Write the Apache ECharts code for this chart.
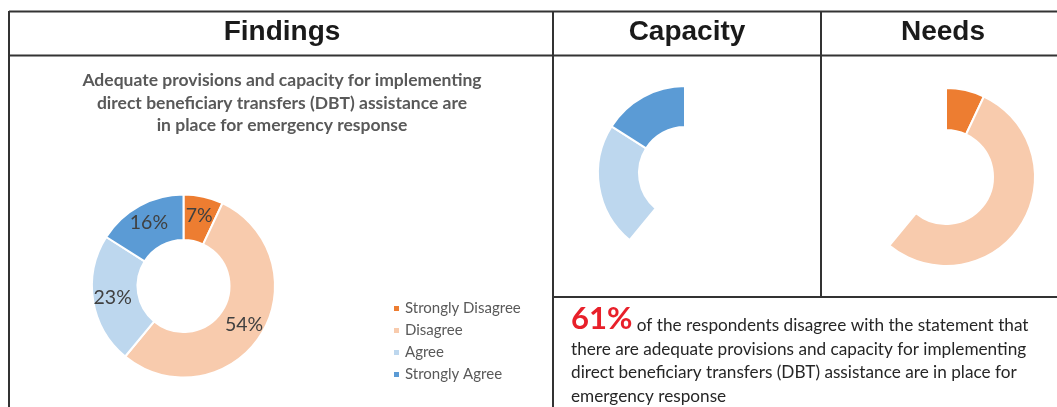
<!DOCTYPE html>
<html>
<head>
<meta charset="utf-8">
<script src="https://cdn.jsdelivr.net/npm/echarts@6/dist/echarts.min.js"></script>
<style>
  html, body { margin: 0; padding: 0; background: #fff; }
  #chart { width: 1057px; height: 407px; }
</style>
</head>
<body>
<div id="chart"></div>
<script>
// 数据
var categories = ['Strongly Disagree', 'Disagree', 'Agree', 'Strongly Agree'];
var shares = [7, 54, 23, 16];
var colors = ['#ED7D31', '#F8CBAD', '#BDD7EE', '#5B9BD5'];
var capacityShown = [false, false, true, true]; // Capacity 只画同意部分
var needsShown = [true, true, false, false];    // Needs 只画不同意部分
var headline = '61%';

var chartDom = document.getElementById('chart');
var myChart = echarts.init(chartDom);

var font = 'Lato, "Open Sans", sans-serif';
var lineColor = '#333';

function buildData(shown) {
  return categories.map(function (name, i) {
    var visible = !shown || shown[i];
    return {
      name: name,
      value: shares[i],
      itemStyle: {
        color: visible ? colors[i] : 'rgba(0,0,0,0)',
        borderColor: visible ? '#fff' : 'rgba(0,0,0,0)'
      }
    };
  });
}

function donut(center, radius, shown, withLabel) {
  return {
    type: 'pie',
    center: center,
    radius: radius,
    startAngle: 90,
    clockwise: true,
    silent: true,
    avoidLabelOverlap: false,
    itemStyle: { borderWidth: 2 },
    label: withLabel ? {
      show: true,
      position: 'inside',
      formatter: '{c}%',
      color: '#404040',
      fontFamily: font,
      fontSize: 19.5
    } : { show: false },
    labelLine: { show: false },
    emphasis: { disabled: true },
    data: buildData(shown)
  };
}

function hline(x1, x2, y) {
  return { type: 'line', silent: true, shape: { x1: x1, y1: y, x2: x2, y2: y },
    style: { stroke: lineColor, lineWidth: 2 } };
}
function vline(x, y1, y2) {
  return { type: 'line', silent: true, shape: { x1: x, y1: y1, x2: x, y2: y2 },
    style: { stroke: lineColor, lineWidth: 2 } };
}
function header(text, cx) {
  return { type: 'text', x: cx, y: 32, silent: true,
    style: { text: text, fill: '#1a1a1a', font: 'bold 28px "Liberation Sans", Arial, sans-serif',
      align: 'center', verticalAlign: 'middle' } };
}

var option = {
  animation: false,
  legend: {
    orient: 'vertical',
    left: 387,
    top: 296,
    icon: 'rect',
    itemWidth: 7,
    itemHeight: 7,
    itemGap: 7,
    data: categories,
    selectedMode: false,
    textStyle: { color: '#595959', fontFamily: font, fontSize: 15 }
  },
  graphic: [
    // 表格线
    hline(9, 1057, 11.5),
    hline(9, 1057, 55.5),
    hline(553, 1057, 297),
    vline(9, 11, 407),
    vline(553, 11, 407),
    vline(821, 11, 297),
    header('Findings', 282),
    header('Capacity', 687),
    header('Needs', 943),
    {
      type: 'text', x: 282, y: 69.5, silent: true,
      style: {
        text: 'Adequate provisions and capacity for implementing\ndirect beneficiary transfers (DBT) assistance are\nin place for emergency response',
        fill: '#595959', font: 'bold 17.5px ' + font, align: 'center', lineHeight: 22.5
      }
    },
    {
      type: 'text', x: 571, y: 302, silent: true,
      style: {
        text: '{big|' + headline + '}{txt| of the respondents disagree with the statement that}\n' +
          '{txt|there are adequate provisions and capacity for implementing}\n' +
          '{txt|direct beneficiary transfers (DBT) assistance are in place for}\n' +
          '{txt|emergency response}',
        rich: {
          big: { fill: '#E8202A', fontFamily: font, fontWeight: 'bold', fontSize: 31, lineHeight: 32, verticalAlign: 'bottom' },
          txt: { fill: '#262626', fontFamily: font, fontSize: 17.2, lineHeight: 23.5, verticalAlign: 'bottom' }
        }
      }
    }
  ],
  series: [
    donut([183.5, 286], [46, 91.5], null, true),
    donut([685, 173], [46, 87], capacityShown, false),
    donut([946, 177], [47, 89], needsShown, false)
  ]
};
myChart.setOption(option);

window.addEventListener('resize', function () {
  myChart.resize();
});
</script>
</body>
</html>
